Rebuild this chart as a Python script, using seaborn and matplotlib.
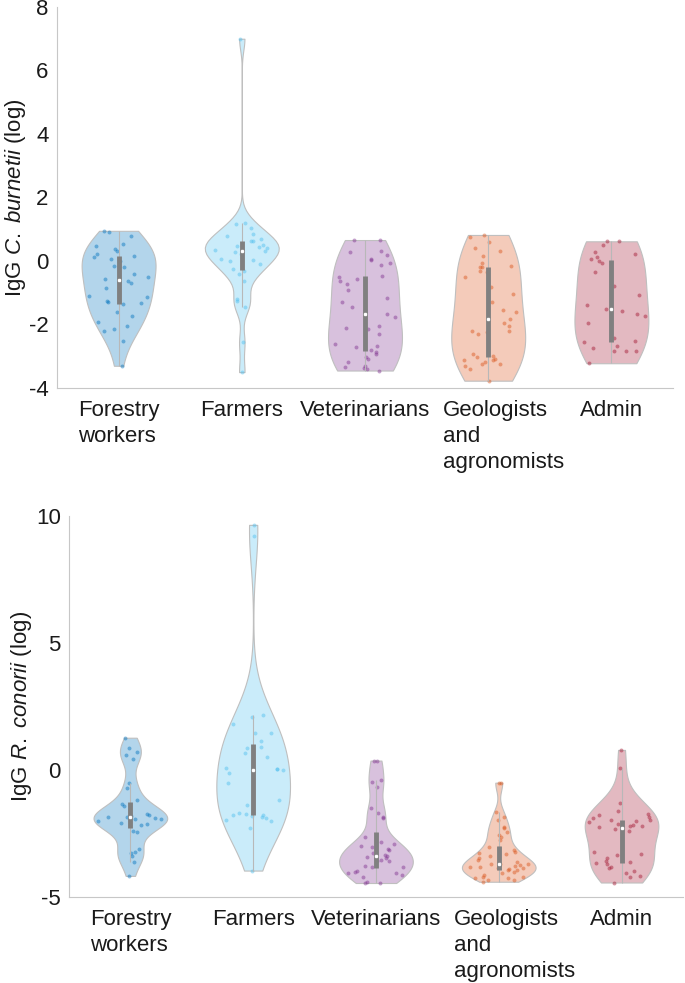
import numpy as np
import matplotlib
matplotlib.use("Agg")
import matplotlib.pyplot as plt
import matplotlib.colors as mcolors
import seaborn as sns

groups = ["Forestry\nworkers", "Farmers", "Veterinarians", "Geologists\nand\nagronomists", "Admin"]
group_colors = ["#0072BD", "#4DBEEE", "#7E2F8E", "#D95319", "#A2142F"]

# IgG C. burnetii (log)
cb_forestry = [0.95, 0.90, 0.80, 0.54, 0.48, 0.38, 0.33, 0.22, 0.15, 0.12, 0.06, 0.01, -0.15, -0.20,
               -0.41, -0.50, -0.57, -0.62, -0.70, -0.86, -1.09, -1.14, -1.25, -1.30, -1.32, -1.35,
               -1.62, -1.72, -1.93, -2.04, -2.14, -2.19, -2.51, -3.30]
cb_farmers = [7.0, 1.19, 1.17, 1.03, 0.85, 0.80, 0.69, 0.64, 0.62, 0.50, 0.48, 0.43, 0.41, 0.36, 0.33,
              0.27, 0.22, 0.06, 0.03, 0.01, -0.09, -0.25, -0.30, -0.41, -0.62, -1.20, -1.25, -1.46,
              -2.56, -3.50]
cb_vet = [0.66, 0.66, 0.33, 0.27, 0.20, 0.06, 0.03, -0.07, -0.12, -0.46, -0.51, -0.57, -0.64, -0.72,
          -0.90, -1.17, -1.30, -1.46, -1.54, -1.67, -1.75, -2.04, -2.11, -2.14, -2.30, -2.60, -2.67,
          -2.70, -2.80, -2.88, -2.93, -3.03, -3.10, -3.19, -3.30, -3.35, -3.37, -3.40, -3.45]
cb_geo = [0.82, 0.75, 0.59, 0.41, 0.33, 0.17, -0.07, -0.15, -0.18, -0.20, -0.30, -0.36, -0.51, -0.83,
          -1.04, -1.30, -1.54, -1.62, -1.83, -1.95, -2.04, -2.19, -2.19, -2.25, -2.30, -2.93, -2.98,
          -3.03, -3.09, -3.12, -3.12, -3.19, -3.24, -3.24, -3.30, -3.40, -3.77]
cb_admin = [0.62, 0.62, 0.51, 0.27, 0.22, 0.12, 0.06, -0.01, -0.07, -0.36, -0.78, -1.06, -1.38, -1.51,
            -1.58, -1.67, -1.72, -1.96, -2.43, -2.53, -2.56, -2.67, -2.74, -2.82, -2.82, -2.84, -3.22]

# IgG R. conorii (log)
rc_forestry = [1.27, 0.88, 0.72, 0.59, 0.42, -0.50, -0.72, -1.18, -1.35, -1.42, -1.73, -1.75, -1.77,
               -1.80, -1.84, -1.86, -1.90, -1.93, -1.94, -2.00, -2.10, -2.13, -2.17, -2.40, -2.45,
               -3.12, -3.21, -3.28, -3.39, -3.61, -4.17]
rc_farmers = [9.65, 9.20, 2.17, 2.07, 1.81, 1.47, 1.44, 1.15, 0.92, 0.85, 0.66, 0.50, 0.07, 0.03, 0.02,
              0.00, -0.13, -0.52, -1.18, -1.38, -1.68, -1.75, -1.77, -1.79, -1.81, -1.86, -1.88,
              -1.97, -1.99, -2.27, -3.96]
rc_vet = [0.37, 0.35, -0.39, -0.46, -0.66, -1.51, -1.68, -1.86, -1.90, -2.62, -2.82, -2.91, -2.99,
          -3.02, -3.12, -3.15, -3.28, -3.35, -3.39, -3.41, -3.48, -3.54, -3.57, -3.58, -3.78, -3.81,
          -3.83, -3.98, -4.00, -4.04, -4.07, -4.13, -4.20, -4.40, -4.44, -4.45]
rc_geo = [-0.50, -0.52, -1.64, -1.86, -1.97, -2.26, -2.30, -2.43, -2.56, -2.62, -2.76, -3.05, -3.08,
          -3.15, -3.22, -3.28, -3.31, -3.40, -3.48, -3.54, -3.61, -3.70, -3.71, -3.72, -3.74, -3.76,
          -3.78, -3.80, -3.81, -3.84, -3.87, -3.90, -3.92, -3.95, -4.00, -4.04, -4.13, -4.20, -4.23,
          -4.24, -4.27, -4.33, -4.34, -4.40]
rc_admin = [0.79, 0.07, -1.31, -1.60, -1.73, -1.77, -1.86, -1.88, -1.95, -1.97, -1.99, -2.05, -2.13,
            -2.17, -2.20, -2.22, -2.26, -2.34, -2.39, -3.22, -3.31, -3.35, -3.48, -3.60, -3.64, -3.66,
            -3.70, -3.81, -3.87, -3.96, -4.07, -4.17, -4.23, -4.43]

burnetii = [cb_forestry, cb_farmers, cb_vet, cb_geo, cb_admin]
conorii = [rc_forestry, rc_farmers, rc_vet, rc_geo, rc_admin]

sns.set_theme(style="white")
plt.rcParams["font.family"] = ["Liberation Sans", "DejaVu Sans"]
plt.rcParams["mathtext.fontset"] = "custom"
plt.rcParams["mathtext.rm"] = "Liberation Sans"
plt.rcParams["mathtext.it"] = "Liberation Sans:italic"
plt.rcParams["axes.unicode_minus"] = False

rng = np.random.default_rng(3)
FS = 16


def matlab_bw(v):
    # ksdensity-style normal bandwidth, robust sigma
    sig = np.median(np.abs(v - np.median(v))) / 0.6745
    return sig * (4 / (3 * len(v))) ** 0.2


def density(v, at, bw):
    return np.exp(-0.5 * ((at[:, None] - v[None, :]) / bw) ** 2).sum(axis=1)


def light(c, a=0.3):
    r = np.array(mcolors.to_rgb(c))
    return tuple(1 - a * (1 - r))


def draw_panel(ax, data, ylabel, ylim, yticks):
    for i, (vals, col) in enumerate(zip(data, group_colors)):
        v = np.asarray(vals, float)
        pos = i + 1
        bw = matlab_bw(v)
        sns.violinplot(x=np.full(len(v), pos), y=v, native_scale=True, orient="x",
                       cut=0, width=0.6, density_norm="width",
                       bw_method=bw / v.std(ddof=1), inner=None,
                       color=light(col), saturation=1, linecolor="0.75", linewidth=0.8, ax=ax)
        grid = np.linspace(v.min(), v.max(), 200)
        half = 0.3 * density(v, v, bw) / density(v, grid, bw).max()
        xs = pos + rng.uniform(-1, 1, len(v)) * half * 0.9
        sns.scatterplot(x=xs, y=v, color=col, alpha=0.45, s=8, linewidth=0, ax=ax, zorder=2)
        q1, med, q3 = np.percentile(v, [25, 50, 75])
        iqr = q3 - q1
        lo = v[v >= q1 - 1.5 * iqr].min()
        hi = v[v <= q3 + 1.5 * iqr].max()
        ax.vlines(pos, lo, hi, color="0.72", lw=0.8, zorder=3)
        ax.vlines(pos, q1, q3, color="0.5", lw=3.5, zorder=4)
        ax.scatter(pos, med, s=10, color="white", edgecolor="0.5", linewidth=0.5, zorder=5)

    ax.set_xlim(0.5, 5.5)
    ax.set_ylim(*ylim)
    ax.set_yticks(yticks)
    # the three-line label sits left-aligned a little left of its tick, so it is
    # written as an annotation at that tick instead of a plain tick label
    ax.set_xticks(range(1, 6), [g if "\n" not in g or i == 0 else "" for i, g in enumerate(groups)])
    for t in ax.get_xticklabels():
        t.set_multialignment("left")
        t.set_linespacing(1.3)
    ax.annotate(groups[3], xy=(4, 0), xycoords=("data", "axes fraction"),
                xytext=(-32.4, -9), textcoords="offset points", ha="left", va="top",
                fontsize=FS, color="0.1", linespacing=1.3)
    ax.set_xlabel("")
    ax.set_ylabel(ylabel, fontsize=FS, color="0.1", labelpad=1)
    for s in ["top", "right"]:
        ax.spines[s].set_visible(False)
    for s in ["left", "bottom"]:
        ax.spines[s].set_color("0.78")
        ax.spines[s].set_linewidth(0.8)
    ax.tick_params(direction="in", length=4, width=0.8, color="0.78",
                   labelsize=FS, labelcolor="0.1")
    ax.tick_params(axis="x", pad=9)
    ax.tick_params(axis="y", pad=6)


fig = plt.figure(figsize=(6.85, 9.83), dpi=100)
ax1 = fig.add_axes([0.0832, 0.6053, 0.8993, 0.3876])
ax2 = fig.add_axes([0.1007, 0.0875, 0.8963, 0.3876])

draw_panel(ax1, burnetii, r"IgG $\mathit{C.\ burnetii}$ (log)", (-4, 8), [-4, -2, 0, 2, 4, 6, 8])
draw_panel(ax2, conorii, r"IgG $\mathit{R.\ conorii}$ (log)", (-5, 10), [-5, 0, 5, 10])

fig.savefig("out.png", dpi=100)
